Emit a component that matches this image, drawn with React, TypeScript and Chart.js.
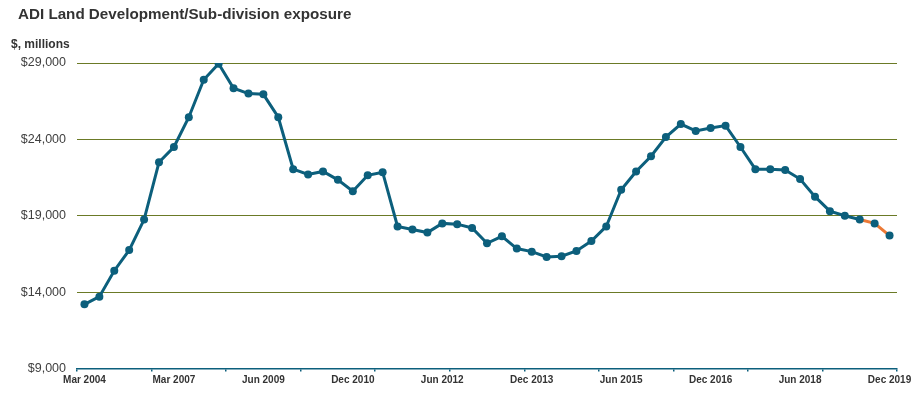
import React, { useEffect, useRef } from "react";
import { Chart, registerables } from "chart.js";

Chart.register(...registerables);

const TITLE = "ADI Land Development/Sub-division exposure";
const UNIT_LABEL = "$, millions";

const categories = [
  "Mar 2004", "Sep 2004", "Mar 2005", "Sep 2005", "Mar 2006", "Sep 2006",
  "Mar 2007", "Sep 2007", "Mar 2008", "Sep 2008", "Dec 2008", "Mar 2009",
  "Jun 2009", "Sep 2009", "Dec 2009", "Mar 2010", "Jun 2010", "Sep 2010",
  "Dec 2010", "Mar 2011", "Jun 2011", "Sep 2011", "Dec 2011", "Mar 2012",
  "Jun 2012", "Sep 2012", "Dec 2012", "Mar 2013", "Jun 2013", "Sep 2013",
  "Dec 2013", "Mar 2014", "Jun 2014", "Sep 2014", "Dec 2014", "Mar 2015",
  "Jun 2015", "Sep 2015", "Dec 2015", "Mar 2016", "Jun 2016", "Sep 2016",
  "Dec 2016", "Mar 2017", "Jun 2017", "Sep 2017", "Dec 2017", "Mar 2018",
  "Jun 2018", "Sep 2018", "Dec 2018", "Mar 2019", "Jun 2019", "Sep 2019",
  "Dec 2019",
];

const exposure = [
  13200, 13700, 15400, 16750, 18750, 22500, 23500, 25450, 27900, 28950,
  27350, 27000, 26950, 25450, 22050, 21700, 21900, 21350, 20600, 21650,
  21850, 18300, 18100, 17900, 18500, 18450, 18200, 17200, 17650, 16850,
  16650, 16300, 16350, 16700, 17350, 18300, 20700, 21900, 22900, 24150,
  25000, 24550, 24750, 24900, 23500, 22050, 22050, 22000, 21400, 20250,
  19300, 19000, 18750, 18500, 17700,
];

const yTicks = [9000, 14000, 19000, 24000, 29000];
const highlightFromIndex = 52;
const labelEvery = 6;
const tickMarkEvery = 5;

const TEAL = "#0c5f7c";
const ORANGE = "#ec7a36";
const OLIVE = "#6b7a26";
const FONT = "'Liberation Sans', Arial, Helvetica, sans-serif";

export default function App() {
  const canvasRef = useRef<HTMLCanvasElement | null>(null);

  useEffect(() => {
    document.body.style.margin = "0";
    const canvas = canvasRef.current;
    if (!canvas) return;
    const chart = new Chart(canvas, {
      type: "line",
      data: {
        labels: categories,
        datasets: [
          {
            data: exposure,
            borderColor: TEAL,
            borderWidth: 3,
            pointRadius: 4,
            pointBackgroundColor: TEAL,
            pointBorderWidth: 0,
            tension: 0,
            segment: {
              borderColor: (ctx: any) =>
                ctx.p0DataIndex >= highlightFromIndex ? ORANGE : TEAL,
            },
          },
        ],
      },
      options: {
        animation: false,
        responsive: false,
        maintainAspectRatio: false,
        layout: { padding: { top: 63, right: 22, left: 0, bottom: 0 } },
        plugins: {
          legend: { display: false },
          title: { display: false },
          tooltip: { enabled: false },
        },
        scales: {
          x: {
            type: "category",
            offset: true,
            afterFit: (scale: any) => {
              scale.height = 29.5;
            },
            border: { display: true, color: TEAL, width: 1.5 },
            grid: {
              offset: true,
              drawOnChartArea: false,
              drawTicks: true,
              tickLength: 3,
              color: (ctx: any) =>
                ctx.type !== "tick" || ctx.index % tickMarkEvery === 0
                  ? TEAL
                  : "rgba(0,0,0,0)",
              lineWidth: 1.5,
            },
            ticks: {
              autoSkip: false,
              maxRotation: 0,
              minRotation: 0,
              padding: 3,
              color: "#333333",
              font: { family: FONT, size: 10, weight: "bold" },
              callback: (_v: any, i: number) =>
                i % labelEvery === 0 ? categories[i] : "",
            },
          },
          y: {
            min: yTicks[0],
            max: yTicks[yTicks.length - 1],
            afterFit: (scale: any) => {
              scale.width = 77;
            },
            afterBuildTicks: (scale: any) => {
              scale.ticks = yTicks.map((v) => ({ value: v }));
            },
            border: { display: false },
            grid: {
              drawTicks: false,
              lineWidth: 1,
              color: (ctx: any) =>
                ctx.tick && ctx.tick.value === yTicks[0]
                  ? "rgba(0,0,0,0)"
                  : OLIVE,
            },
            ticks: {
              padding: 11,
              color: "#404040",
              font: { family: FONT, size: 12.5 },
              callback: (v: any) => "$" + Number(v).toLocaleString("en-US"),
            },
          },
        },
      },
    });
    return () => chart.destroy();
  }, []);

  return (
    <div style={{ position: "relative", width: 919, height: 398, background: "#ffffff", fontFamily: FONT }}>
      <div
        style={{
          position: "absolute",
          left: 18,
          top: 5,
          fontSize: 15.2,
          fontWeight: "bold",
          color: "#333333",
          whiteSpace: "nowrap",
          lineHeight: "18px",
        }}
      >
        {TITLE}
      </div>
      <div
        style={{
          position: "absolute",
          left: 11,
          top: 37,
          fontSize: 12,
          fontWeight: "bold",
          color: "#333333",
          whiteSpace: "nowrap",
          lineHeight: "14px",
        }}
      >
        {UNIT_LABEL}
      </div>
      <canvas ref={canvasRef} width={919} height={398} style={{ display: "block" }} />
    </div>
  );
}
